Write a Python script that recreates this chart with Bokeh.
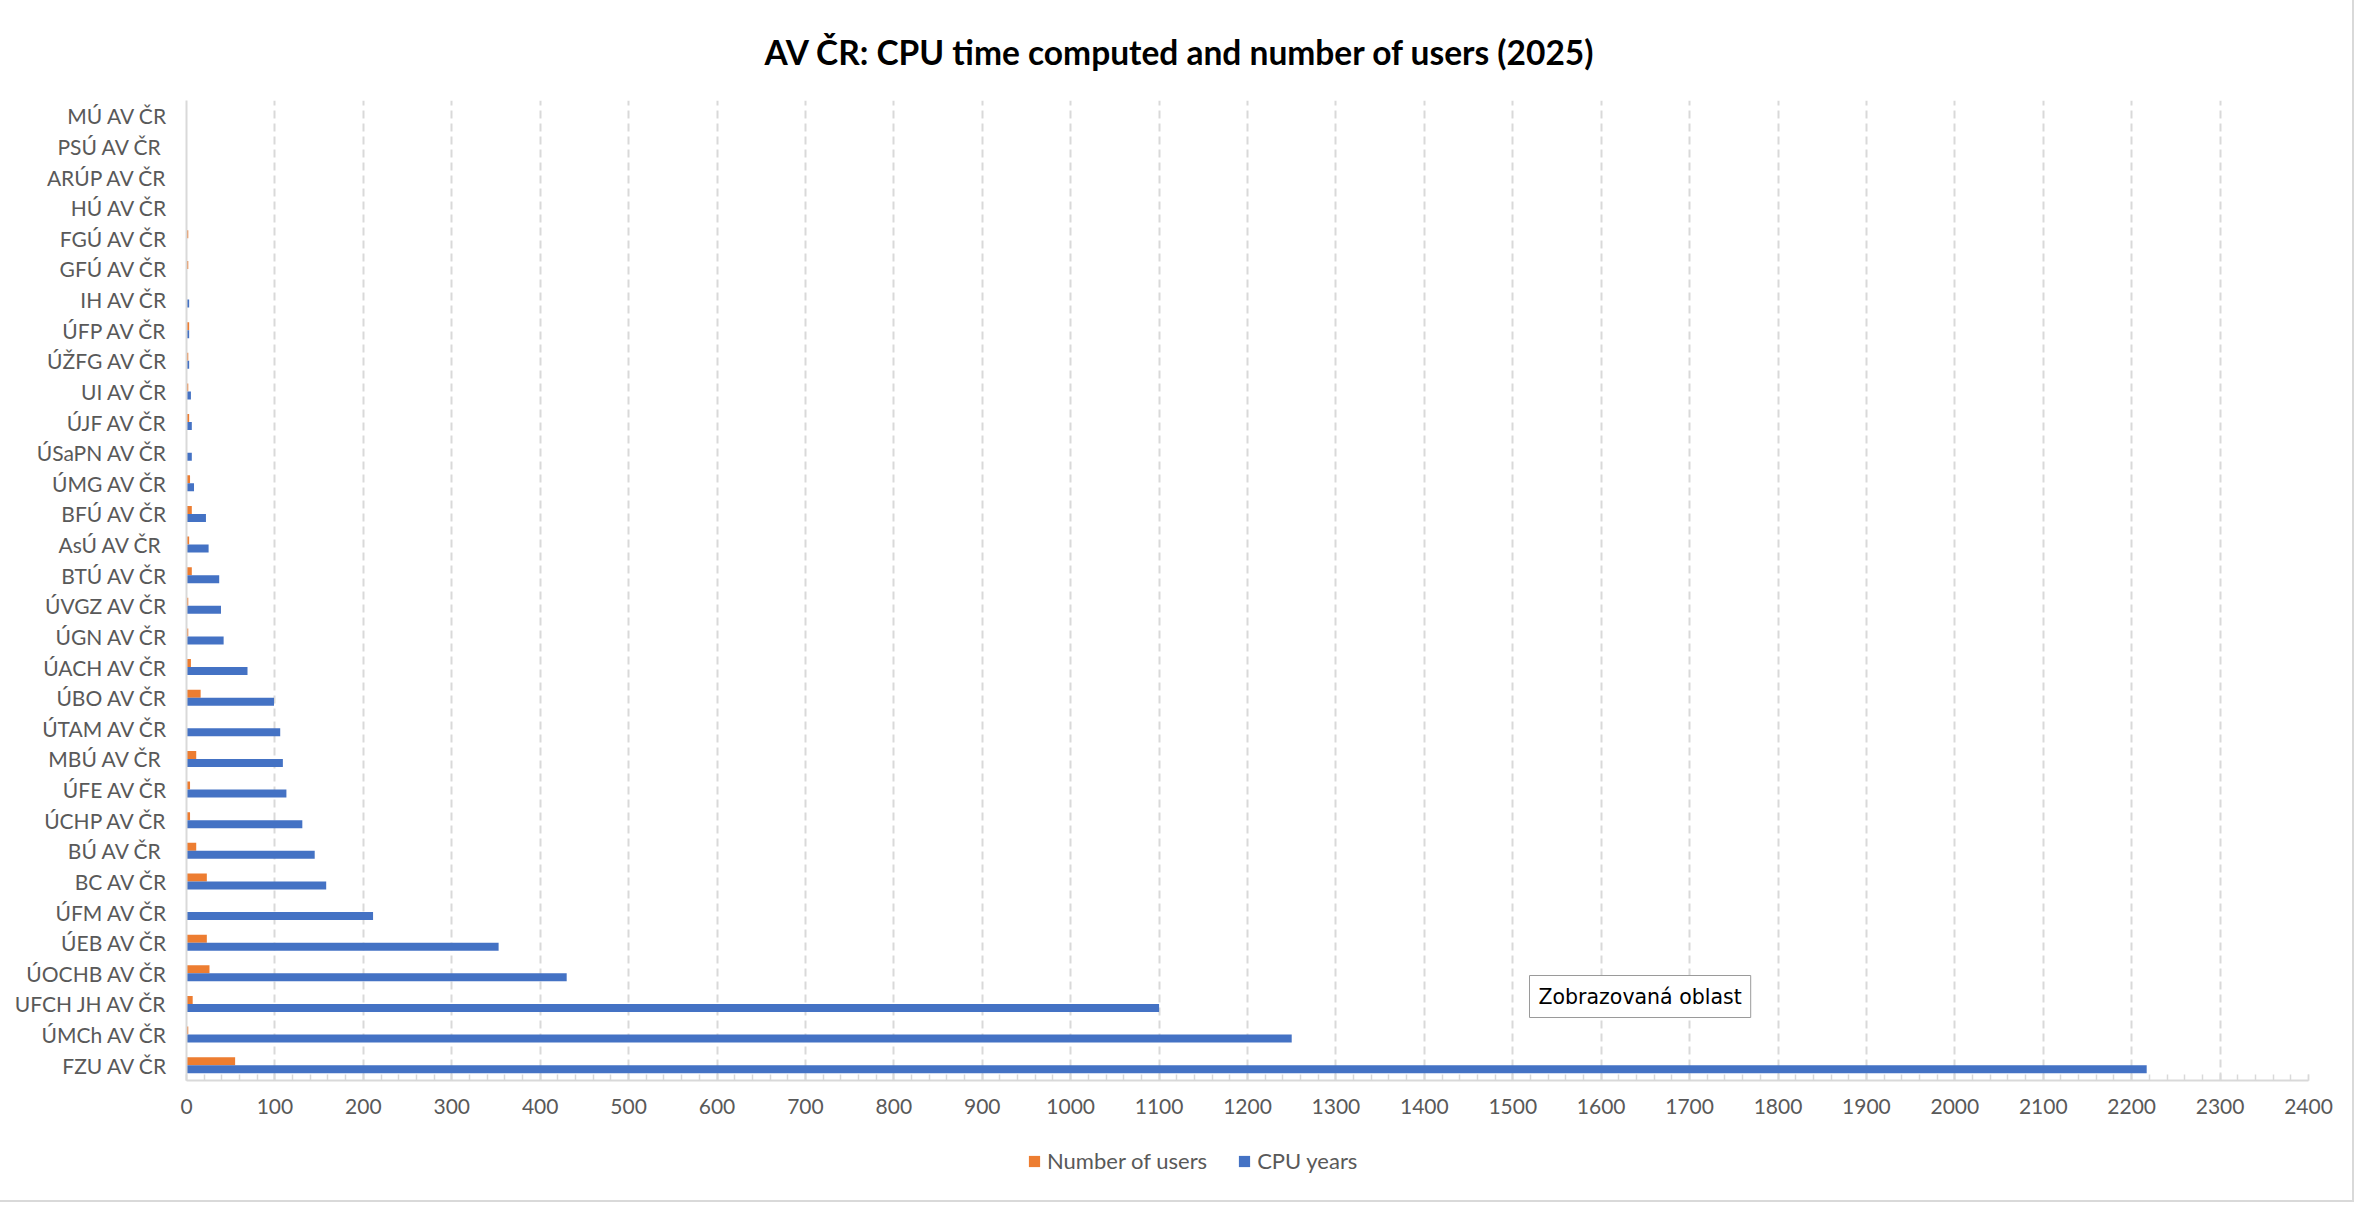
from bokeh.plotting import figure
from bokeh.layouts import column
from bokeh.models import (FactorRange, Range1d, Legend, LegendItem, Label,
                          FixedTicker, ColumnDataSource)
from bokeh.transform import dodge
from bokeh.embed import file_html
from bokeh.resources import INLINE

# ---- data (top to bottom as in the chart) ----
institutes = [
    "MÚ AV ČR", "PSÚ  AV ČR", "ARÚP AV ČR", "HÚ AV ČR", "FGÚ AV ČR",
    "GFÚ AV ČR", "IH AV ČR", "ÚFP AV ČR", "ÚŽFG AV ČR", "UI AV ČR",
    "ÚJF AV ČR", "ÚSaPN AV ČR", "ÚMG AV ČR", "BFÚ AV ČR", "AsÚ  AV ČR",
    "BTÚ AV ČR", "ÚVGZ AV ČR", "ÚGN AV ČR", "ÚACH AV ČR", "ÚBO AV ČR",
    "ÚTAM AV ČR", "MBÚ  AV ČR", "ÚFE AV ČR", "ÚCHP AV ČR", "BÚ  AV ČR",
    "BC AV ČR", "ÚFM AV ČR", "ÚEB AV ČR", "ÚOCHB AV ČR", "UFCH JH AV ČR",
    "ÚMCh AV ČR", "FZU AV ČR",
]
cpu_years = [
    0, 0, 0, 0, 0,
    0.3, 3, 3, 3, 5,
    6, 6, 8.5, 22, 25,
    37, 39, 42, 69, 99,
    106, 109, 113, 131, 145,
    158, 211, 353, 430, 1100,
    1250, 2217,
]
users = [
    0, 0, 0, 0, 2,
    2, 0, 3, 2, 2,
    3, 0, 4, 6, 3,
    6, 2, 2, 5, 16,
    0, 11, 4, 4, 11,
    23, 0, 23, 26, 7,
    2, 55,
]
x_ticks = list(range(0, 2401, 100))
x_minor = list(range(0, 2401, 20))
series_names = ["Number of users", "CPU years"]
series_colors = ["#ED7D31", "#4472C4"]
title_text = "AV ČR: CPU time computed and number of users (2025)"
tooltip_text = "Zobrazovaná oblast"

GRAY = "#d9d9d9"
TXT = "#595959"
FONT = "Lato"
W = 2352

src = ColumnDataSource(dict(inst=institutes, cpu=cpu_years, users=users))

p = figure(
    width=W, height=1125,
    y_range=FactorRange(factors=institutes[::-1], range_padding=0, factor_padding=0),
    x_range=Range1d(0, 2400),
    output_backend="svg", toolbar_location=None,
    min_border_left=186, min_border_right=44,
    min_border_top=100, min_border_bottom=45,
)
p.outline_line_color = None
p.background_fill_color = "white"
p.border_fill_color = "white"

p.title.text = title_text
p.title.align = "left"
p.title.offset = 578
p.title.vertical_align = "bottom"
p.title.standoff = 58
p.title.text_font = FONT
p.title.text_font_size = "33.5px"
p.title.text_font_style = "bold"
p.title.text_color = "black"

p.hbar(y=dodge("inst", 0.13, range=p.y_range), left=0, right="users",
       height=0.26, source=src, fill_color=series_colors[0], line_color=None)
p.hbar(y=dodge("inst", -0.13, range=p.y_range), left=0, right="cpu",
       height=0.26, source=src, fill_color=series_colors[1], line_color=None)

# x axis
xa = p.xaxis[0]
xa.ticker = FixedTicker(ticks=x_ticks, minor_ticks=x_minor)
xa.axis_line_color = GRAY
xa.axis_line_width = 2
xa.major_tick_line_color = GRAY
xa.minor_tick_line_color = GRAY
xa.major_tick_line_width = 1.5
xa.minor_tick_line_width = 1.5
xa.major_tick_in = 6
xa.major_tick_out = 0
xa.minor_tick_in = 6
xa.minor_tick_out = 0
xa.major_label_text_font = FONT
xa.major_label_text_font_size = "21px"
xa.major_label_text_color = TXT
xa.major_label_standoff = 18

# y axis
ya = p.yaxis[0]
ya.axis_line_color = GRAY
ya.axis_line_width = 2
ya.major_tick_line_color = None
ya.minor_tick_line_color = None
ya.major_label_text_font = FONT
ya.major_label_text_font_size = "21px"
ya.major_label_text_color = TXT
ya.major_label_standoff = 13

p.ygrid.visible = False
p.xgrid.ticker = FixedTicker(ticks=x_ticks[1:])
p.xgrid.grid_line_color = GRAY
p.xgrid.grid_line_width = 2
p.xgrid.grid_line_dash = "8 5"

tip = Label(x=1343, y=84, x_units="screen", y_units="screen", text=tooltip_text,
            text_align="left", text_baseline="middle", text_font="DejaVu Sans",
            text_font_size="20.5px", text_color="black",
            background_fill_color="white", border_line_color="#9a9a9a",
            border_line_width=1, padding=9)
p.add_layout(tip)

# ---- legend strip below the chart (its frame is aligned with the chart's) ----
lg = figure(width=W, height=75, x_range=Range1d(0, 1), y_range=Range1d(0, 1),
            output_backend="svg", toolbar_location=None,
            x_axis_type=None, y_axis_type=None, min_border=0)
lg.outline_line_color = None
lg.grid.visible = False
rs = [lg.hbar(y=0, left=0, right=0, height=0, fill_color=c, line_color=None)
      for c in series_colors]
legend = Legend(
    items=[LegendItem(label=n, renderers=[r]) for n, r in zip(series_names, rs)],
    location=(841, 26), orientation="horizontal",
    glyph_width=14, glyph_height=14, label_standoff=6, spacing=30,
    padding=0, margin=0, border_line_color=None, background_fill_alpha=0,
    label_text_font=FONT, label_text_font_size="22px", label_text_color=TXT,
    label_height=23,
)
lg.add_layout(legend)

page = column(p, lg, spacing=0)
page.styles = {"outline": "2px solid #d9d9d9"}

open("out.html", "w").write(file_html(page, INLINE))
